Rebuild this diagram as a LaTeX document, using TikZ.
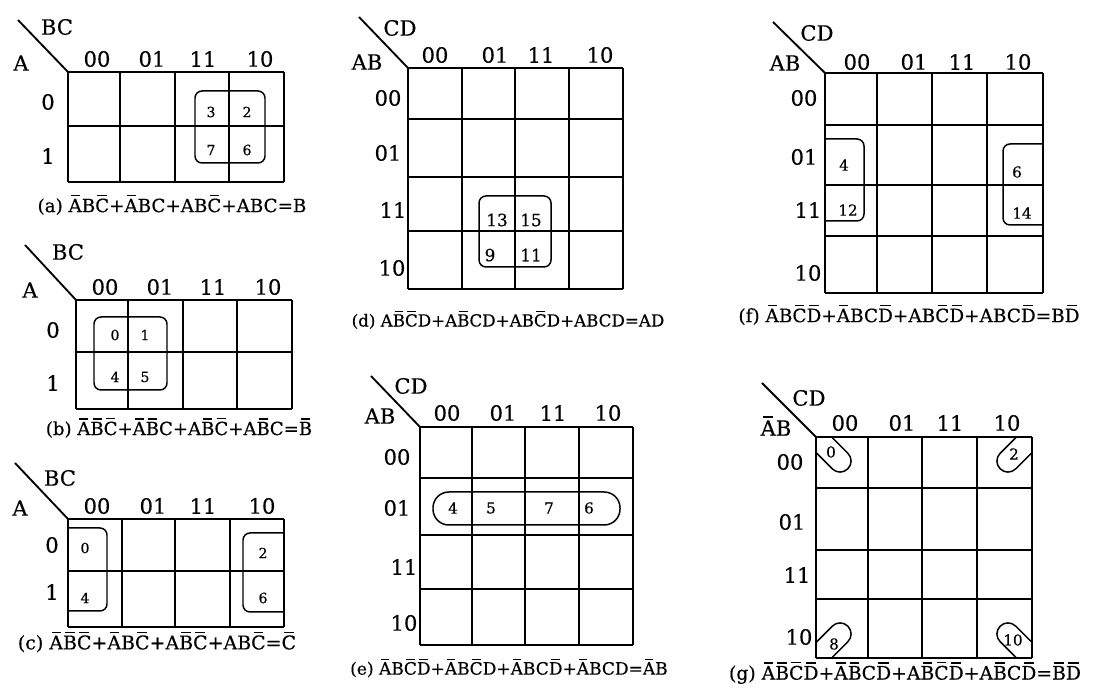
\documentclass[tikz,border=0pt]{standalone}
\usepackage{fontspec}
\setmainfont{DejaVu Serif}[FakeBold=0.4]
\newsavebox\ntbox
\newcommand\nt[1]{\sbox\ntbox{#1}\makebox[0pt][l]{\hspace{0.16\wd\ntbox}\rule[\dimexpr\ht\ntbox+0.13em\relax]{0.68\wd\ntbox}{0.065em}}\usebox\ntbox}
\newcommand\kgrid[6]{%
  \foreach \xx in {#1} \draw[gridline] (\xx,#5) -- (\xx,#6);
  \foreach \yy in {#2} \draw[gridline] (#3,\yy) -- (#4,\yy);}
\tikzset{
  gridline/.style={line width=1.05pt},
  grp/.style={line width=0.85pt, rounded corners=4pt},
  blob/.style={line width=0.85pt, rounded corners=6.2pt},
  lbl/.style={inner sep=0pt, font=\fontsize{12}{14}\selectfont},
  hdr/.style={inner sep=0pt, font=\fontsize{12}{14}\selectfont},
  numA/.style={inner sep=0pt, font=\fontsize{8}{9}\selectfont},
  numD/.style={inner sep=0pt, font=\fontsize{9.6}{11}\selectfont},
  numE/.style={inner sep=0pt, font=\fontsize{8.6}{10}\selectfont},
  cap/.style={inner sep=0pt, font=\fontsize{#1}{13}\selectfont},
  cap/.default=10
}
\begin{document}
\begin{tikzpicture}[x=0.02cm,y=-0.02cm]
\useasboundingbox (0,0) rectangle (1093,688);

% ---------- (a)
\kgrid{68,120,175,229,284}{72,126,182}{68}{284}{72}{182}
\draw[gridline] (18,20) -- (68,72);
\node[hdr] (a-bc) at (57,27) {BC};
\node[hdr] (a-a) at (21,63) {A};
\foreach \t/\x in {00/97,01/152,11/203,10/260} \node[lbl] (a-c\t) at (\x,59) {\t};
\node[lbl] (a-r0) at (48,102) {0};
\node[lbl] (a-r1) at (48,156) {1};
\draw[grp] (195,91) rectangle (265,163);
\node[numA] (a-n3) at (211,112) {3};
\node[numA] (a-n2) at (247,112) {2};
\node[numA] (a-n7) at (211,150) {7};
\node[numA] (a-n6) at (247,150) {6};
\node[cap=10.4] (a-cap) at (172,205) {(a) \nt{A}B\nt{C}+\nt{A}BC+AB\nt{C}+ABC=B};

% ---------- (b)
\kgrid{76,128,183,237,292}{300,352,409}{76}{292}{300}{409}
\draw[gridline] (25,245) -- (76,300);
\node[hdr] (b-bc) at (68,252) {BC};
\node[hdr] (b-a) at (30,290) {A};
\foreach \t/\x in {00/105,01/160,11/213,10/268} \node[lbl] (b-c\t) at (\x,287) {\t};
\node[lbl] (b-r0) at (53,330) {0};
\node[lbl] (b-r1) at (53,383) {1};
\draw[grp] (94,317) rectangle (167,390);
\node[numA] (b-n0) at (115,335) {0};
\node[numA] (b-n1) at (145,335) {1};
\node[numA] (b-n4) at (115,377) {4};
\node[numA] (b-n5) at (145,377) {5};
\node[cap=10.3] (b-cap) at (179,428) {(b) \nt{A}\nt{B}\nt{C}+\nt{A}\nt{B}C+A\nt{B}\nt{C}+A\nt{B}C=\nt{B}};

% ---------- (c)
\kgrid{68,122,175,230,284}{519,571,627}{68}{284}{519}{627}
\draw[gridline] (15,463) -- (68,519);
\node[hdr] (c-bc) at (60,478) {BC};
\node[hdr] (c-a) at (20,508) {A};
\foreach \t/\x in {00/97,01/153,11/203,10/262} \node[lbl] (c-c\t) at (\x,506) {\t};
\node[lbl] (c-r0) at (52,545) {0};
\node[lbl] (c-r1) at (52,592) {1};
\draw[grp] (68,528) -- (107,528) -- (107,611) -- (68,611);
\draw[grp] (284,533) -- (243,533) -- (243,612) -- (284,612);
\node[numA] (c-n0) at (85,548) {0};
\node[numA] (c-n4) at (85,598) {4};
\node[numA] (c-n2) at (263,553) {2};
\node[numA] (c-n6) at (263,598) {6};
\node[cap=10.8] (c-cap) at (157,642) {(c) \nt{A}\nt{B}\nt{C}+\nt{A}B\nt{C}+A\nt{B}\nt{C}+AB\nt{C}=\nt{C}};

% ---------- (d)
\kgrid{408,462,515,569,623}{68,119,177,231,289}{408}{623}{68}{289}
\draw[gridline] (359,17) -- (408,68);
\node[hdr] (d-cd) at (400,28) {CD};
\node[hdr] (d-ab) at (367,62) {AB};
\foreach \t/\x in {00/435,01/495,11/541,10/600} \node[lbl] (d-c\t) at (\x,55) {\t};
\node[lbl] (d-r00) at (388,98) {00};
\node[lbl] (d-r01) at (388,153) {01};
\node[lbl] (d-r11) at (393,210) {11};
\node[lbl] (d-r10) at (392,268) {10};
\draw[grp] (479,196) rectangle (551,267);
\node[numD] (d-n13) at (497,220) {13};
\node[numD] (d-n15) at (531,220) {15};
\node[numD] (d-n9) at (490,255) {9};
\node[numD] (d-n11) at (531,255) {11};
\node[cap=9.5] (d-cap) at (508,320) {(d) A\nt{B}\nt{C}D+A\nt{B}CD+AB\nt{C}D+ABCD=AD};

% ---------- (e)
\kgrid{420,472,525,579,633}{427,478,535,589,645}{420}{633}{427}{645}
\draw[gridline] (371,376) -- (420,427);
\node[hdr] (e-cd) at (411,386) {CD};
\node[hdr] (e-ab) at (380,416) {AB};
\foreach \t/\x in {00/447,01/503,11/553,10/608} \node[lbl] (e-c\t) at (\x,413) {\t};
\node[lbl] (e-r00) at (397,457) {00};
\node[lbl] (e-r01) at (397,508) {01};
\node[lbl] (e-r11) at (404,567) {11};
\node[lbl] (e-r10) at (404,623) {10};
\draw[line width=0.85pt, rounded corners=9pt] (433,492) rectangle (620,525);
\node[numE] (e-n4) at (453,508) {4};
\node[numE] (e-n5) at (491,508) {5};
\node[numE] (e-n7) at (549,508) {7};
\node[numE] (e-n6) at (589,508) {6};
\node[cap=9.7] (e-cap) at (509,668) {(e) \nt{A}B\nt{C}\nt{D}+\nt{A}B\nt{C}D+\nt{A}BC\nt{D}+\nt{A}BCD=\nt{A}B};

% ---------- (f)
\kgrid{825,877,932,987,1043}{73,125,185,236,293}{825}{1043}{73}{293}
\draw[gridline] (773,22) -- (825,73);
\node[hdr] (f-cd) at (817,33) {CD};
\node[hdr] (f-ab) at (785,63) {AB};
\foreach \t/\x in {00/857,01/914,11/962,10/1018} \node[lbl] (f-c\t) at (\x,62) {\t};
\node[lbl] (f-r00) at (804,98) {00};
\node[lbl] (f-r01) at (804,157) {01};
\node[lbl] (f-r11) at (808,210) {11};
\node[lbl] (f-r10) at (808,273) {10};
\draw[grp] (825,139) -- (864,139) -- (864,221) -- (825,221);
\draw[grp] (1043,144) -- (1003,144) -- (1003,225) -- (1043,225);
\node[numE] (f-n4) at (844,165) {4};
\node[numE] (f-n12) at (848,210) {12};
\node[numE] (f-n6) at (1017,172) {6};
\node[numE] (f-n14) at (1022,213) {14};
\node[cap=10.5] (f-cap) at (909,315) {(f) \nt{A}B\nt{C}\nt{D}+\nt{A}BC\nt{D}+AB\nt{C}\nt{D}+ABC\nt{D}=B\nt{D}};

% ---------- (g)
\kgrid{816,868,922,977,1032}{437,488,550,599,658}{816}{1032}{437}{658}
\draw[gridline] (762,383) -- (816,437);
\node[hdr] (g-cd) at (809,398) {CD};
\node[hdr] (g-ab) at (776,426) {\nt{A}B};
\foreach \t/\x in {00/845,01/902,11/950,10/1007} \node[lbl] (g-c\t) at (\x,423) {\t};
\node[lbl] (g-r00) at (790,462) {00};
\node[lbl] (g-r01) at (792,522) {01};
\node[lbl] (g-r11) at (797,575) {11};
\node[lbl] (g-r10) at (799,637) {10};
\begin{scope}
  \clip (816,437) rectangle (1032,658);
  \foreach \cx/\cy/\r in {816/437/-45,1032/437/45,816/658/45,1032/658/-45}
    \draw[blob, shift={(\cx,\cy)}, rotate=\r] (-45,-11) rectangle (45,11);
\end{scope}
\node[numE] (g-n0) at (831,452) {0};
\node[numE] (g-n2) at (1014,454) {2};
\node[numE] (g-n8) at (834,644) {8};
\node[numE] (g-n10) at (1013,640) {10};
\node[cap=10.7] (g-cap) at (905,673) {(g) \nt{A}\nt{B}\nt{C}\nt{D}+\nt{A}\nt{B}C\nt{D}+A\nt{B}\nt{C}\nt{D}+A\nt{B}C\nt{D}=\nt{B}\nt{D}};
\end{tikzpicture}
\end{document}
